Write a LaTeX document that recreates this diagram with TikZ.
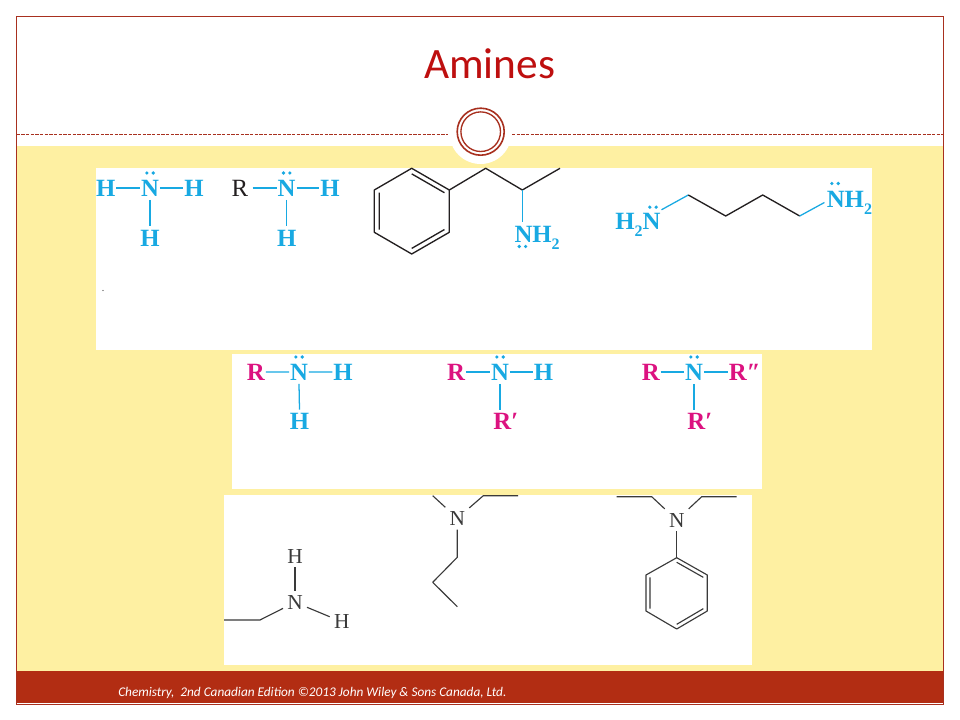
\documentclass[tikz,border=0pt]{standalone}
\usepackage{fontspec}
\usepackage{graphicx}
\setmainfont{Liberation Serif}
\newfontfamily\slidefont{Carlito}
\usetikzlibrary{calc}
\definecolor{paneY}{HTML}{FEF0A2}
\definecolor{barR}{HTML}{B22D13}
\definecolor{titleR}{HTML}{BE0F0F}
\definecolor{frameR}{HTML}{A8301F}
\definecolor{chemC}{HTML}{18A9E2}
\definecolor{chemM}{HTML}{DC1280}
\definecolor{inkK}{HTML}{231F20}
\definecolor{inkG}{HTML}{3A3A3A}
\newcommand\lowtwo{\raisebox{-.28em}{\fontsize{12}{12}\selectfont 2}}
\newcommand\lonepair[2]{\fill[chemC] ([shift={(-3.2,#2)}]#1) circle[radius=1.8] ([shift={(3.2,#2)}]#1) circle[radius=1.8];}
\tikzset{
  x=.75pt,y=-.75pt,
  chem/.style={font=\fontsize{18.6}{19}\selectfont\bfseries,text height=12.3pt,text depth=0pt,inner xsep=.5pt,inner ysep=2.6pt,anchor=center},
  chemc/.style={chem,text=chemC},
  chemm/.style={chem,text=chemM},
  chemk/.style={chem,font=\fontsize{18.6}{19}\selectfont,text=inkK,inner xsep=3pt},
  plain/.style={font=\fontsize{16}{17}\selectfont,text=inkG,text height=10.6pt,text depth=0pt,inner sep=3pt},
  bondc/.style={draw=chemC,line width=.95pt},
  bondk/.style={draw=inkK,line width=1pt,line join=round},
  bondg/.style={draw=inkG,line width=.85pt,line join=round},
  panel/.style={fill=white,draw=none},
}
\begin{document}
\begin{tikzpicture}
\useasboundingbox (0,0) rectangle (960,720);
\fill[white] (0,0) rectangle (960,720);
% slide furniture
\fill[paneY] (16,146) rectangle (944,671);
\fill[barR] (16,671) rectangle (944,702.5);
\draw[frameR,line width=.5pt] (16.5,16.5) rectangle (943.5,704);
\draw[frameR,line width=.7pt,dash pattern=on 2.5pt off 1pt] (16.5,134.5) -- (448,134.5);
\draw[frameR,line width=.7pt,dash pattern=on 2.5pt off 1pt] (512,134.5) -- (943.5,134.5);
\fill[white] (480.5,133) circle[radius=31];
\draw[frameR,line width=1.2pt] (480.7,131.7) circle[radius=23.5];
\draw[frameR,line width=1pt] (480.7,131.7) circle[radius=19.8];
\node[text=titleR,font=\slidefont\fontsize{32.5}{33}\selectfont] (title) at (489.5,64) {Amines};
\node[text=white,font=\slidefont\itshape\fontsize{9.95}{11}\selectfont,anchor=west,inner sep=0pt] (foot) at (118,692.5) {Chemistry,\ \ 2nd Canadian Edition ©2013 John Wiley \& Sons Canada, Ltd.};
% panels
\fill[panel] (96,168) rectangle (872,350);
\fill[panel] (232,354) rectangle (762,489);
\fill[panel] (224,495) rectangle (752,665);
\fill[inkG] (103,290.5) circle[radius=.6];

% --- row 1: ammonia
\node[chemc] (a1) at (105.8,188) {H};
\node[chemc] (a2) at (150,188) {N};
\node[chemc] (a3) at (194,188) {H};
\node[chemc] (a4) at (150,238) {H};
\draw[bondc] (a1.east)--(a2.west) (a2.east)--(a3.west) (a2.south)--(a4.north);
\lonepair{a2.center}{-15}
% --- row 1: primary
\node[chemk] (b1) at (240,188) {R};
\node[chemc] (b2) at (286.7,188) {N};
\node[chemc] (b3) at (330,188) {H};
\node[chemc] (b4) at (286.7,238) {H};
\draw[bondc] (b1.east)--(b2.west) (b2.east)--(b3.west) (b2.south)--(b4.north);
\lonepair{b2.center}{-15}
% --- row 1: amphetamine
\coordinate (rc) at (411.8,211);
\coordinate (r1) at (411.7,168.3);
\coordinate (r2) at (449.3,190);
\coordinate (r3) at (449.3,232.3);
\coordinate (r4) at (411.7,254);
\coordinate (r5) at (374.3,232.3);
\coordinate (r6) at (374.3,190);
\coordinate (c1) at (485.7,168.3);
\coordinate (c2) at (522.3,190);
\coordinate (c3) at (560,168.3);
\draw[bondk] (r1)--(r2)--(r3)--(r4)--(r5)--(r6)--cycle;
\draw[bondk] ($(rc)!.87!(r1)$)--($(rc)!.87!(r2)$) ($(rc)!.87!(r3)$)--($(rc)!.87!(r4)$) ($(rc)!.87!(r5)$)--($(rc)!.87!(r6)$);
\draw[bondk] (r2)--(c1)--(c2)--(c3);
\node[chemc,anchor=west] (amph) at (513.6,234) {NH\lowtwo};
\draw[bondc] (c2)--(amph.north -| c2);
\fill[chemC] (519.2,246.5) circle[radius=1.8] (525.6,246.5) circle[radius=1.8];
% --- row 1: putrescine
\node[chemc,anchor=east] (putl) at (661.5,221.7) {H\lowtwo N};
\node[chemc,anchor=west] (putr) at (825.9,199.5) {NH\lowtwo};
\coordinate (d1) at (688.3,195);
\coordinate (d2) at (725.7,216);
\coordinate (d3) at (762.7,195);
\coordinate (d4) at (799.7,216);
\draw[bondc] (putl.north east)--(d1);
\draw[bondk] (d1)--(d2)--(d3)--(d4);
\draw[bondc] (d4)--([shift={(-1.5,3)}]putr.west);
\fill[chemC] (649.8,207.2) circle[radius=1.8] (656.2,207.2) circle[radius=1.8];
\fill[chemC] (831.8,183.5) circle[radius=1.8] (838.2,183.5) circle[radius=1.8];

% --- row 2: primary amine
\node[chemm] (e1) at (255.9,372) {R};
\node[chemc] (e2) at (299,372) {N};
\node[chemc] (e3) at (343,372) {H};
\node[chemc] (e4) at (299.5,421.5) {H};
\draw[bondc] (e1.east)--(e2.west) (e2.east)--(e3.west) (e2.south)--(e4.north);
\lonepair{e2.center}{-15}
% --- row 2: secondary amine
\node[chemm] (f1) at (456,372) {R};
\node[chemc] (f2) at (500,372) {N};
\node[chemc] (f3) at (543.5,372) {H};
\node[chemm,anchor=west] (f4) at (492.5,421.5) {R′};
\draw[bondc] (f2.south)--(f2.south |- f4.north) (f1.east)--(f2.west) (f2.east)--(f3.west);
\lonepair{f2.center}{-15}
% --- row 2: tertiary amine
\node[chemm] (g1) at (650.7,372) {R};
\node[chemc] (g2) at (694,372) {N};
\node[chemm,anchor=west] (g3) at (728,372) {R″};
\node[chemm,anchor=west] (g4) at (686.5,421.5) {R′};
\draw[bondc] (g1.east)--(g2.west) (g2.east)--(g3.west) (g2.south)--(g2.south |- g4.north);
\lonepair{g2.center}{-15}

% --- row 3: left
\node[plain] (h1) at (295,602.3) {N};
\node[plain] (h2) at (295,556) {H};
\node[plain] (h3) at (341.7,621.7) {H};
\coordinate (h4) at (224,620);
\coordinate (h5) at (260,620);
\draw[bondg] (h4)--(h5)--(h1);
\draw[bondg] (h1.north)--(h2.south);
\draw[bondg] (h1)--(h3);
% --- row 3: middle
\node[plain] (i1) at (457.3,518.3) {N};
\coordinate (i2) at (432.7,495.7);
\coordinate (i3) at (483.3,495.7);
\coordinate (i4) at (518,495.7);
\coordinate (i5) at (457.3,557.3);
\coordinate (i6) at (432.7,582.3);
\coordinate (i7) at (457.3,606.7);
\draw[bondg] (i2)--(i1);
\draw[bondg] (i1)--(i3)--(i4);
\draw[bondg] (i1)--(i5)--(i6)--(i7);
% --- row 3: right
\node[plain] (j1) at (676.7,520) {N};
\coordinate (j2) at (616.7,496.7);
\coordinate (j3) at (651.7,496.7);
\coordinate (j4) at (701.7,496.7);
\coordinate (j5) at (736.7,496.7);
\coordinate (jc) at (676.7,593);
\coordinate (s1) at (676.7,557.7);
\coordinate (s2) at (707.3,575);
\coordinate (s3) at (707.3,611);
\coordinate (s4) at (676.7,629);
\coordinate (s5) at (646,611);
\coordinate (s6) at (646,575);
\draw[bondg] (j2)--(j3)--(j1);
\draw[bondg] (j1)--(j4)--(j5);
\draw[bondg] (j1)--(s1);
\draw[bondg] (s1)--(s2)--(s3)--(s4)--(s5)--(s6)--cycle;
\draw[bondg] ($(jc)!.87!(s1)$)--($(jc)!.87!(s2)$) ($(jc)!.87!(s3)$)--($(jc)!.87!(s4)$) ($(jc)!.87!(s5)$)--($(jc)!.87!(s6)$);
\end{tikzpicture}
\end{document}
